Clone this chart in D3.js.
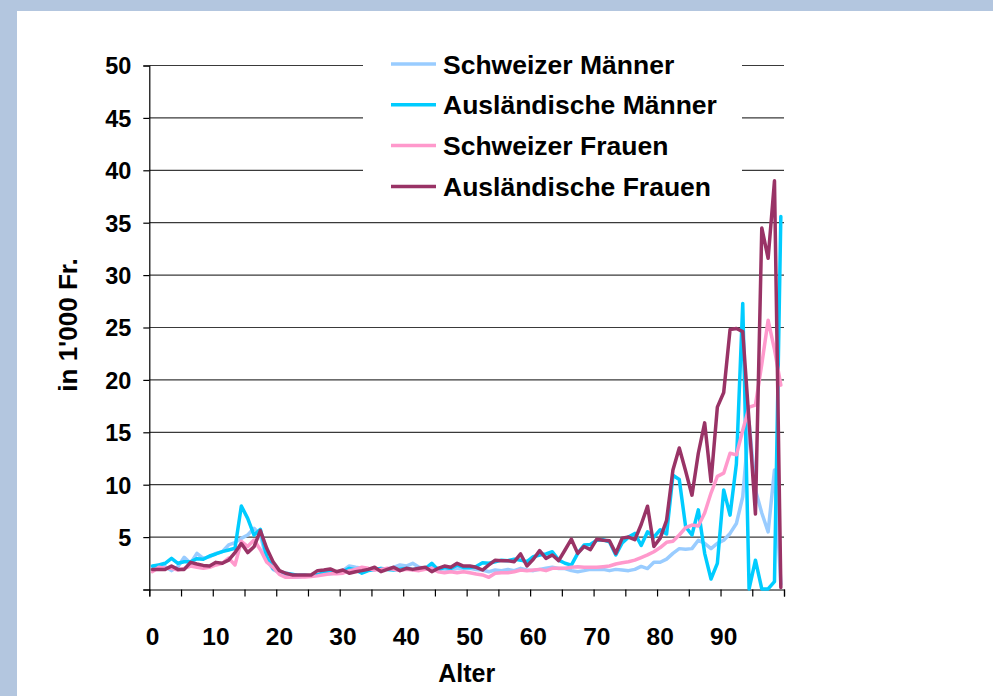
<!DOCTYPE html>
<html>
<head>
<meta charset="utf-8">
<script src="https://cdn.jsdelivr.net/npm/d3@7"></script>
<style>
  body { margin: 0; background: #fff; }
  svg { display: block; }
  text { font-family: "Liberation Sans", Arial, sans-serif; font-weight: bold; fill: #000; }
</style>
</head>
<body>
<svg id="chart" width="993" height="696"></svg>
<script>
// ages 0..99 (categories)
const ages = d3.range(0, 100);
const xTickLabels = [0, 10, 20, 30, 40, 50, 60, 70, 80, 90];
const yTicks = [0, 5, 10, 15, 20, 25, 30, 35, 40, 45, 50];

const seriesNames = ["Schweizer Männer", "Ausländische Männer", "Schweizer Frauen", "Ausländische Frauen"];
const seriesColors = ["#99ccff", "#00ccff", "#ff99cc", "#993366"];

const schweizerMaenner = [
  2.12, 2.34, 2.18, 1.8, 2.18, 3.07, 2.5, 3.45, 2.97, 3.13,
  3.45, 3.61, 4.25, 4.47, 4.88, 5.2, 5.84, 5.2, 2.82, 1.92,
  1.6, 1.3, 1.2, 1.2, 1.3, 1.3, 1.4, 1.5, 1.5, 1.6,
  1.8, 2.24, 2.12, 2.02, 1.95, 1.9, 2.0, 1.95, 2.1, 2.34,
  2.24, 2.5, 2.12, 2.02, 2.1, 2.0, 1.95, 1.9, 2.0, 2.0,
  2.02, 1.9, 1.86, 1.7, 1.86, 1.8, 1.92, 1.8, 2.02, 1.86,
  1.8, 1.92, 2.02, 2.12, 2.0, 2.0, 1.8, 1.7, 1.8, 1.92,
  1.92, 1.92, 1.8, 1.92, 1.86, 1.8, 1.92, 2.2, 2.0, 2.6,
  2.6, 2.9, 3.45, 3.9, 3.85, 3.9, 4.7, 4.4, 3.9, 4.4,
  4.7, 5.35, 6.3, 8.85, 16.0, 9.5, 7.3, 5.5, 11.4, 0.5
];
const auslMaenner = [
  2.24, 2.34, 2.5, 2.97, 2.5, 2.65, 2.65, 2.94, 2.88, 3.2,
  3.39, 3.61, 3.77, 3.93, 7.97, 6.79, 5.2, 5.74, 3.13, 2.02,
  1.7, 1.55, 1.45, 1.35, 1.35, 1.3, 1.4, 1.6, 1.7, 1.6,
  1.7, 2.02, 1.86, 1.55, 1.8, 1.9, 2.0, 1.9, 1.85, 1.95,
  2.0, 1.9, 1.95, 2.0, 2.5, 1.86, 2.12, 2.0, 2.34, 2.1,
  2.1, 2.2, 2.55, 2.5, 2.65, 2.8, 2.75, 2.9, 2.8, 2.65,
  3.13, 3.29, 3.39, 3.6, 2.8, 2.5, 2.33, 3.45, 4.25, 4.3,
  4.7, 4.75, 4.55, 3.3, 4.45, 5.0, 5.35, 4.2, 5.5, 5.0,
  5.7, 5.3, 10.9, 10.5, 6.0, 5.2, 7.6, 3.45, 1.0, 2.5,
  9.5, 7.1, 12.0, 27.3, 0.05, 2.8, 0.05, 0.05, 0.75, 35.6
];
const schweizerFrauen = [
  1.7, 2.12, 2.02, 2.02, 1.86, 2.02, 2.24, 2.12, 2.02, 2.12,
  2.34, 2.5, 3.0, 2.34, 4.6, 4.1, 4.72, 3.8, 2.6, 2.12,
  1.45, 1.16, 1.16, 1.2, 1.2, 1.25, 1.3, 1.4, 1.5, 1.5,
  1.55, 1.8, 1.92, 2.12, 2.02, 1.86, 1.92, 2.02, 1.92, 1.8,
  1.92, 1.86, 1.8, 1.92, 2.02, 1.7, 1.6, 1.7, 1.6, 1.7,
  1.6, 1.48, 1.39, 1.16, 1.55, 1.6, 1.6, 1.7, 1.86, 1.8,
  1.86, 1.92, 1.8, 2.02, 2.02, 2.02, 2.12, 2.18, 2.12, 2.12,
  2.12, 2.18, 2.24, 2.43, 2.55, 2.65, 2.8, 3.05, 3.3, 3.6,
  4.0, 4.5, 4.6, 5.2, 5.9, 6.15, 6.05, 7.3, 9.2, 10.8,
  11.1, 13.0, 12.85, 15.2, 17.4, 17.6, 21.5, 25.7, 22.9, 19.5
];
const auslFrauen = [
  1.92, 1.92, 1.92, 2.24, 1.92, 1.92, 2.59, 2.43, 2.3, 2.24,
  2.59, 2.5, 2.8, 3.52, 4.38, 3.52, 4.08, 5.62, 3.93, 2.65,
  1.8, 1.55, 1.39, 1.39, 1.39, 1.39, 1.8, 1.86, 1.96, 1.7,
  1.86, 1.55, 1.7, 1.8, 1.92, 2.12, 1.7, 1.92, 2.12, 1.8,
  2.02, 1.92, 2.02, 2.12, 1.7, 2.02, 2.24, 2.12, 2.5, 2.24,
  2.24, 2.12, 1.86, 2.34, 2.8, 2.75, 2.75, 2.65, 3.39, 2.24,
  2.88, 3.71, 2.97, 3.29, 2.75, 3.77, 4.8, 3.45, 4.1, 3.8,
  4.8, 4.7, 4.65, 3.45, 4.9, 5.0, 4.75, 6.2, 7.95, 4.1,
  4.9, 6.6, 11.4, 13.5, 11.3, 9.0, 13.0, 15.9, 10.3, 17.4,
  18.8, 24.8, 24.9, 24.6, 16.0, 7.2, 34.5, 31.6, 39.0, 0.2
];

function main() {
  const svg = d3.select("#chart");
  const W = 993, H = 696;

  // frame
  svg.append("rect").attr("width", W).attr("height", H).attr("fill", "#b3c6df");
  svg.append("rect").attr("x", 17).attr("y", 11).attr("width", W - 17).attr("height", H - 11).attr("fill", "#fff");

  const left = 149.3, right = 784, top = 65.5, bottom = 589.5;

  // category axis: each age sits between tick marks
  const x = d3.scaleLinear().domain([-0.5, 99.5]).range([left, right]);
  const y = d3.scaleLinear().domain([0, 50]).range([bottom, top]);

  // grid
  svg.append("g").selectAll("line")
    .data(yTicks.filter(d => d > 0))
    .enter().append("line")
    .attr("x1", left).attr("x2", right)
    .attr("y1", d => y(d)).attr("y2", d => y(d))
    .attr("stroke", "#3a3a3a").attr("stroke-width", 1.2);

  // y axis
  const yAxis = svg.append("g").attr("transform", "translate(" + left + ",0)")
    .call(d3.axisLeft(y).tickValues(yTicks).tickSize(6).tickPadding(12)
      .tickFormat(d => d === 0 ? "" : d));
  yAxis.select(".domain").attr("stroke", "#000").attr("stroke-width", 1.2);
  yAxis.selectAll(".tick line").attr("stroke", "#000").attr("stroke-width", 1.2);
  yAxis.selectAll("text").attr("font-size", 23.5).attr("font-family", null).attr("dy", "0.36em");

  // x axis: tick marks every 5 categories (at boundaries), labels every 10 at category centres
  const xTickPos = d3.range(-0.5, 100, 5);
  const xAxis = svg.append("g").attr("transform", "translate(0," + bottom + ")")
    .call(d3.axisBottom(x).tickValues(xTickPos).tickSize(7).tickFormat(""));
  xAxis.select(".domain").attr("stroke", "#000").attr("stroke-width", 1.2);
  xAxis.selectAll(".tick line").attr("stroke", "#000").attr("stroke-width", 1.2);

  svg.append("g").selectAll("text")
    .data(xTickLabels)
    .enter().append("text")
    .attr("x", d => x(d))
    .attr("y", 645)
    .attr("text-anchor", "middle")
    .attr("font-size", 24.5)
    .text(d => d);

  // axis titles
  svg.append("text")
    .attr("x", (left + right) / 2).attr("y", 682)
    .attr("text-anchor", "middle").attr("font-size", 25)
    .text("Alter");
  svg.append("text")
    .attr("transform", "translate(77,325) rotate(-90)")
    .attr("text-anchor", "middle").attr("font-size", 26)
    .text("in 1'000 Fr.");

  // lines
  const allSeries = [schweizerMaenner, auslMaenner, schweizerFrauen, auslFrauen];
  const line = d3.line().x((d, i) => x(ages[i])).y(d => y(d));

  svg.append("g").selectAll("path")
    .data(allSeries)
    .enter().append("path")
    .attr("d", d => line(d))
    .attr("fill", "none")
    .attr("stroke", (d, i) => seriesColors[i])
    .attr("stroke-width", 3.5)
    .attr("stroke-linejoin", "round")
    .attr("stroke-linecap", "round");

  // legend
  const lg = svg.append("g");
  lg.append("rect").attr("x", 363).attr("y", 44).attr("width", 379).attr("height", 160).attr("fill", "#fff");
  const item = lg.selectAll("g.item")
    .data(seriesNames)
    .enter().append("g").attr("class", "item")
    .attr("transform", (d, i) => "translate(391," + (64 + i * 40.8) + ")");
  item.append("line")
    .attr("x1", 0).attr("x2", 45)
    .attr("stroke", (d, i) => seriesColors[i])
    .attr("stroke-width", 3.5);
  item.append("text")
    .attr("x", 52).attr("y", 9.5)
    .attr("font-size", 26.5)
    .text(d => d);
}
main();
</script>
</body>
</html>
